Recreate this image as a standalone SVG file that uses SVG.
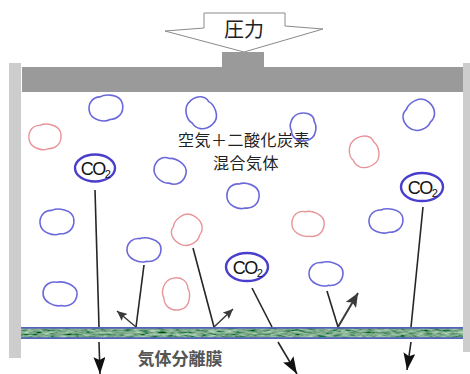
<svg xmlns="http://www.w3.org/2000/svg" xmlns:xlink="http://www.w3.org/1999/xlink" width="470" height="374" viewBox="0 0 470 374">
  <style>
    .jp { font-family: "Noto Sans CJK JP", "Noto Sans CJK SC", sans-serif; }
    .lbl { font-size: 16px; fill: #222; text-anchor: middle; letter-spacing: 0.5px; }
    .mol-b { fill: none; stroke: #5a58d6; stroke-width: 1.6; stroke-opacity: 0.9; }
    .mol-r { fill: none; stroke: #e48a8e; stroke-width: 1.4; stroke-opacity: 0.9; }
    .co2 ellipse { fill: #fff; stroke: #4a3ecc; stroke-width: 2.4; }
    .co2 text { font-family: "Liberation Sans", Arial, sans-serif; font-size: 18px; fill: #111; text-anchor: middle; letter-spacing: -1.5px; }
    .path { stroke: #262626; stroke-width: 1.6; fill: none; }
    .down { marker-end: url(#headDown); }
    .bounce { stroke: #3a3a3a; stroke-width: 1.5; marker-end: url(#headBounce); }
    .bounce-big { stroke: #3a3a3a; stroke-width: 2; marker-end: url(#headBig); }
  </style>
  <defs>
    <path id="blob" d="M-17,0 C-17,-8 -11,-13 -4,-12 C1,-14 17,-12 17,-1 C17,9 9,13 2,12 C-4,14 -17,10 -17,0 Z" vector-effect="non-scaling-stroke"/>
    <marker id="headDown" markerUnits="userSpaceOnUse" markerWidth="18" markerHeight="12" refX="17" refY="6" orient="auto">
      <path d="M0,0 L17,6 L0,12 L3,6 Z" fill="#111"/>
    </marker>
    <marker id="headBounce" markerUnits="userSpaceOnUse" markerWidth="11" markerHeight="9" refX="10" refY="4.5" orient="auto">
      <path d="M0,0 L10,4.5 L0,9 L2,4.5 Z" fill="#3a3a3a"/>
    </marker>
    <marker id="headBig" markerUnits="userSpaceOnUse" markerWidth="15" markerHeight="12" refX="14" refY="6" orient="auto">
      <path d="M0,0 L14,6 L0,12 L3,6 Z" fill="#3a3a3a"/>
    </marker>
    <filter id="moss" x="0" y="0" width="1" height="1">
      <feTurbulence type="fractalNoise" baseFrequency="0.12 0.5" numOctaves="3" seed="7" result="n"/>
      <feColorMatrix in="n" type="matrix" values="0.8 0 0 0 -0.2  0.9 0 0 0 -0.05  0.8 0 0 0 -0.15  0 0 0 0 1" result="g"/>
      <feComposite in="g" in2="SourceGraphic" operator="in"/>
    </filter>
  </defs>

  <!-- pressure arrow -->
  <g id="pressure">
    <polygon points="204,13 285,13 285,26 323,29 244,52 165,31 204,28" fill="#fff" stroke="#8a8a8a" stroke-width="1"/>
    <text class="jp" x="244" y="37" font-size="20" fill="#222" text-anchor="middle">圧力</text>
  </g>

  <!-- piston and container walls -->
  <g id="piston">
    <rect x="222" y="52" width="42" height="15" fill="#9a9a9a"/>
    <rect x="22" y="67" width="441" height="25" fill="#9a9a9a"/>
  </g>
  <g id="walls" fill="#cdcdcd">
    <rect x="9" y="63" width="12" height="295"/>
    <rect x="463" y="63" width="7" height="289"/>
  </g>

  <!-- gas separation membrane -->
  <g id="membrane">
    <rect x="21" y="327" width="442" height="12" fill="#3f7a55" filter="url(#moss)"/>
    <line x1="21" y1="327.8" x2="463" y2="327.8" stroke="#5564b8" stroke-width="1.8"/>
    <line x1="21" y1="338.2" x2="463" y2="338.2" stroke="#5564b8" stroke-width="1.8"/>
    <text class="jp" x="180" y="365" font-size="17" font-weight="bold" fill="#555" text-anchor="middle">気体分離膜</text>
  </g>

  <!-- mixture label -->
  <g id="mixture-label">
    <text class="jp lbl"><tspan x="244" y="146">空気＋二酸化炭素</tspan><tspan x="246" y="169">混合気体</tspan></text>
  </g>

  <!-- air molecules -->
  <g id="air-molecules">
    <use xlink:href="#blob" class="mol-b" transform="translate(106,108) rotate(-10)"/>
    <use xlink:href="#blob" class="mol-b" transform="translate(201,113) rotate(50) scale(0.95,1.1)"/>
    <use xlink:href="#blob" class="mol-b" transform="translate(303,127) rotate(80) scale(0.82,1.0)"/>
    <use xlink:href="#blob" class="mol-b" transform="translate(419,115) rotate(-50) scale(0.95,1.1)"/>
    <use xlink:href="#blob" class="mol-b" transform="translate(170,171) rotate(15) scale(0.95,1)"/>
    <use xlink:href="#blob" class="mol-b" transform="translate(243,196) scale(0.95,1)"/>
    <use xlink:href="#blob" class="mol-b" transform="translate(57,222) rotate(-5)"/>
    <use xlink:href="#blob" class="mol-b" transform="translate(386,221) rotate(-5) scale(1,0.95)"/>
    <use xlink:href="#blob" class="mol-b" transform="translate(144,250) scale(1,0.95)"/>
    <use xlink:href="#blob" class="mol-b" transform="translate(326,274) scale(1,0.95)"/>
    <use xlink:href="#blob" class="mol-b" transform="translate(60,294) rotate(5) scale(1,0.95)"/>
    <use xlink:href="#blob" class="mol-r" transform="translate(45,137) rotate(-5) scale(0.95,1)"/>
    <use xlink:href="#blob" class="mol-r" transform="translate(364,152) rotate(60) scale(0.92,1.12)"/>
    <use xlink:href="#blob" class="mol-r" transform="translate(187,230) rotate(-60) scale(0.92,1.12)"/>
    <use xlink:href="#blob" class="mol-r" transform="translate(308,224) rotate(5) scale(0.95,1)"/>
    <use xlink:href="#blob" class="mol-r" transform="translate(176,294) rotate(80) scale(0.95,1.05)"/>
  </g>

  <!-- CO2 molecules -->
  <g id="co2-a" class="co2">
    <ellipse cx="95" cy="168" rx="20" ry="13.5"/>
    <text x="95" y="175">CO<tspan font-size="11" dy="3">2</tspan></text>
  </g>
  <g id="co2-b" class="co2">
    <ellipse cx="422" cy="187" rx="21" ry="14"/>
    <text x="422" y="194">CO<tspan font-size="11" dy="3">2</tspan></text>
  </g>
  <g id="co2-c" class="co2">
    <ellipse cx="247" cy="267" rx="21" ry="14"/>
    <text x="247" y="274">CO<tspan font-size="11" dy="3">2</tspan></text>
  </g>

  <!-- trajectories -->
  <g id="connectors">
    <line class="path" x1="95" y1="190" x2="99" y2="327"/>
    <line class="path down" x1="99" y1="342" x2="100" y2="374"/>
    <line class="path" x1="423" y1="207" x2="411" y2="327"/>
    <line class="path down" x1="411" y1="342" x2="407" y2="370"/>
    <line class="path" x1="252" y1="288" x2="272" y2="327"/>
    <line class="path down" x1="278" y1="342" x2="297" y2="374"/>
    <line class="path" x1="144" y1="265" x2="136" y2="327"/>
    <line class="path bounce" x1="136" y1="327" x2="117" y2="311"/>
    <line class="path" x1="193" y1="248" x2="214" y2="327"/>
    <line class="path bounce" x1="214" y1="327" x2="233" y2="309"/>
    <line class="path" x1="327" y1="291" x2="338" y2="327"/>
    <line class="path bounce-big" x1="338" y1="327" x2="358" y2="293"/>
  </g>
</svg>
